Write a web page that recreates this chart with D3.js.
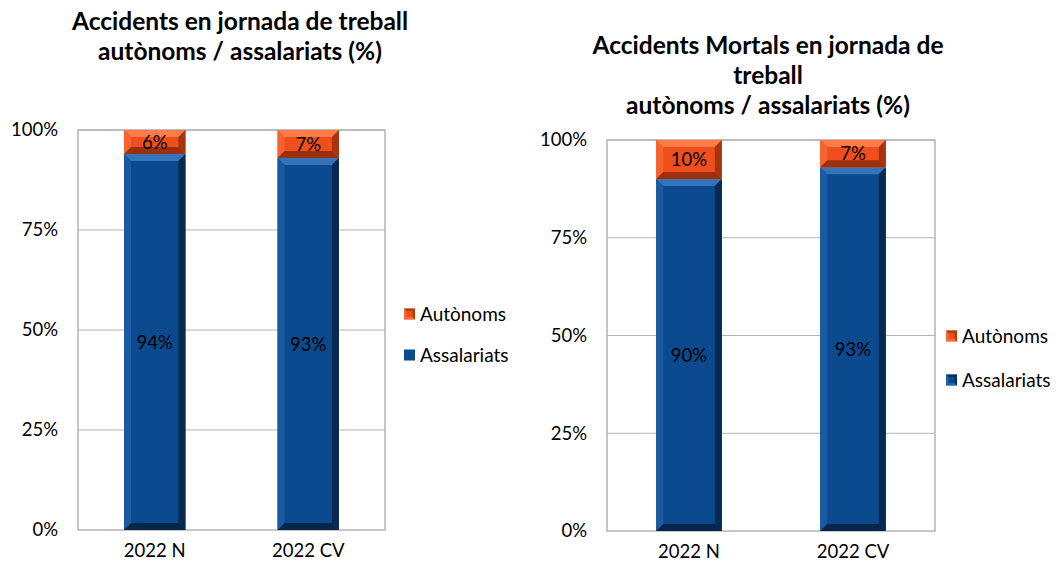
<!DOCTYPE html>
<html><head><meta charset="utf-8">
<script src="https://cdn.jsdelivr.net/npm/d3@7"></script>
<style>body{margin:0;background:#fff;} text{font-family:Lato,"Open Sans",sans-serif;}</style>
</head><body>
<svg id="c" width="1059" height="571"></svg>
<script>
const categories = ["2022 N", "2022 CV"];
const seriesNames = ["Assalariats", "Autònoms"];
const leftAssalariats = [94, 93];
const leftAutonoms = [6, 7];
const rightAssalariats = [90, 93];
const rightAutonoms = [10, 7];
const yTicks = [0, 25, 50, 75, 100];
const leftTitle = ["Accidents en jornada de treball", "autònoms / assalariats (%)"];
const rightTitle = ["Accidents Mortals en jornada de", "treball", "autònoms / assalariats (%)"];

const svg = d3.select("#c");
const colors = {
  "Assalariats": {face:"#0b4a8e", top:"#3574b8", left:"#1a5aa0", right:"#072a52", bottom:"#06264a"},
  "Autònoms": {face:"#ef4f1c", top:"#ff7b48", left:"#f86230", right:"#a8340f", bottom:"#9c2f0c"}
};
const FONT = "Lato, 'Open Sans', sans-serif";

function drawChart(cfg) {
  const g = svg.append("g");
  const x = d3.scaleBand().domain(categories).range([cfg.x0, cfg.x1]).paddingInner(cfg.pad).paddingOuter(cfg.pad/2);
  const y = d3.scaleLinear().domain([0, 100]).range([cfg.y0, cfg.y1]);
  g.append("text").attr("text-anchor","middle").attr("font-weight","bold").attr("font-size",24.5).attr("fill","#000")
    .selectAll("tspan").data(cfg.title).join("tspan")
    .attr("x", cfg.tx).attr("y", (d,i)=>cfg.ty + i*30).text(d=>d);
  g.append("g").selectAll("line").data(yTicks.filter(t=>t>0)).join("line")
    .attr("x1", cfg.x0).attr("x2", cfg.x1).attr("y1", d=>y(d)).attr("y2", d=>y(d))
    .attr("stroke", "#b4b4b4").attr("stroke-width", 1.2);
  g.append("rect").attr("x", cfg.x0).attr("y", y(100)).attr("width", cfg.x1-cfg.x0).attr("height", y(0)-y(100))
    .attr("fill","none").attr("stroke","#b4b4b4").attr("stroke-width",1.5);
  const ya = d3.axisLeft(y).tickValues(yTicks).tickFormat(d=>d+"%").tickSize(0).tickPadding(cfg.tickPad);
  const yg = g.append("g").attr("transform",`translate(${cfg.x0},0)`).call(ya);
  yg.select(".domain").remove();
  yg.selectAll("text").attr("font-size",18.5).attr("fill","#000").style("font-family",FONT);
  const xa = d3.axisBottom(x).tickSize(0).tickPadding(14);
  const xg = g.append("g").attr("transform",`translate(0,${cfg.y0})`).call(xa);
  xg.select(".domain").remove();
  xg.selectAll("text").attr("font-size",18.5).attr("fill","#000").style("font-family",FONT);
  const stackData = categories.map((c,i)=>({cat:c, Assalariats:cfg.a[i], "Autònoms":cfg.b[i]}));
  const stack = d3.stack().keys(seriesNames)(stackData);
  const bw = x.bandwidth(), bv = 7;
  stack.forEach(layer=>{
    const col = colors[layer.key];
    layer.forEach(d=>{
      const x0 = x(d.data.cat), x1 = x0+bw, yt = y(d[1]), yb = y(d[0]);
      const h = yb-yt, b = Math.min(bv, h/2.5);
      const bg = g.append("g");
      bg.append("rect").attr("x",x0).attr("y",yt).attr("width",bw).attr("height",h).attr("fill",col.face);
      const poly = (pts,fill)=>bg.append("polygon").attr("points",pts.map(p=>p.join(",")).join(" ")).attr("fill",fill);
      poly([[x0,yt],[x1,yt],[x1-b,yt+b],[x0+b,yt+b]], col.top);
      poly([[x0,yt],[x0+b,yt+b],[x0+b,yb-b],[x0,yb]], col.left);
      poly([[x1,yt],[x1,yb],[x1-b,yb-b],[x1-b,yt+b]], col.right);
      poly([[x0,yb],[x0+b,yb-b],[x1-b,yb-b],[x1,yb]], col.bottom);
      bg.append("text").attr("x",x0+bw/2).attr("y",(yt+yb)/2).attr("dy","0.36em").attr("text-anchor","middle")
        .attr("font-size",18.5).attr("fill","#000").text(d[1]-d[0]+"%");
    });
  });
  const leg = g.append("g");
  ["Autònoms","Assalariats"].forEach((k,i)=>{
    const ly = cfg.ly + i*cfg.lgap;
    const col = colors[k];
    const s = 11;
    leg.append("rect").attr("x",cfg.lx).attr("y",ly-s/2).attr("width",s).attr("height",s).attr("fill",col.face);
    if (k==="Autònoms" || cfg.bevelLegend) {
      leg.append("polygon").attr("points",`${cfg.lx},${ly-s/2} ${cfg.lx+s},${ly-s/2} ${cfg.lx+s},${ly+s/2}`).attr("fill",col.right).attr("opacity",0.8);
      leg.append("polygon").attr("points",`${cfg.lx},${ly-s/2} ${cfg.lx},${ly+s/2} ${cfg.lx+s},${ly+s/2}`).attr("fill",col.top).attr("opacity",0.6);
      leg.append("rect").attr("x",cfg.lx+2.5).attr("y",ly-s/2+2.5).attr("width",s-5).attr("height",s-5).attr("fill",col.face);
    }
    leg.append("text").attr("x",cfg.lx+s+5).attr("y",ly).attr("dy","0.36em").attr("font-size",19).attr("fill","#000").text(k);
  });
}

drawChart({x0:78, x1:385, y0:530, y1:130, pad:0.6, tickPad:20, a:leftAssalariats, b:leftAutonoms,
  title:leftTitle, tx:240, ty:30, lx:404, ly:314, lgap:41, bevelLegend:false});
drawChart({x0:607, x1:935, y0:531, y1:140, pad:0.6, tickPad:20, a:rightAssalariats, b:rightAutonoms,
  title:rightTitle, tx:768, ty:54, lx:946, ly:336, lgap:44, bevelLegend:true});
</script>
</body></html>
